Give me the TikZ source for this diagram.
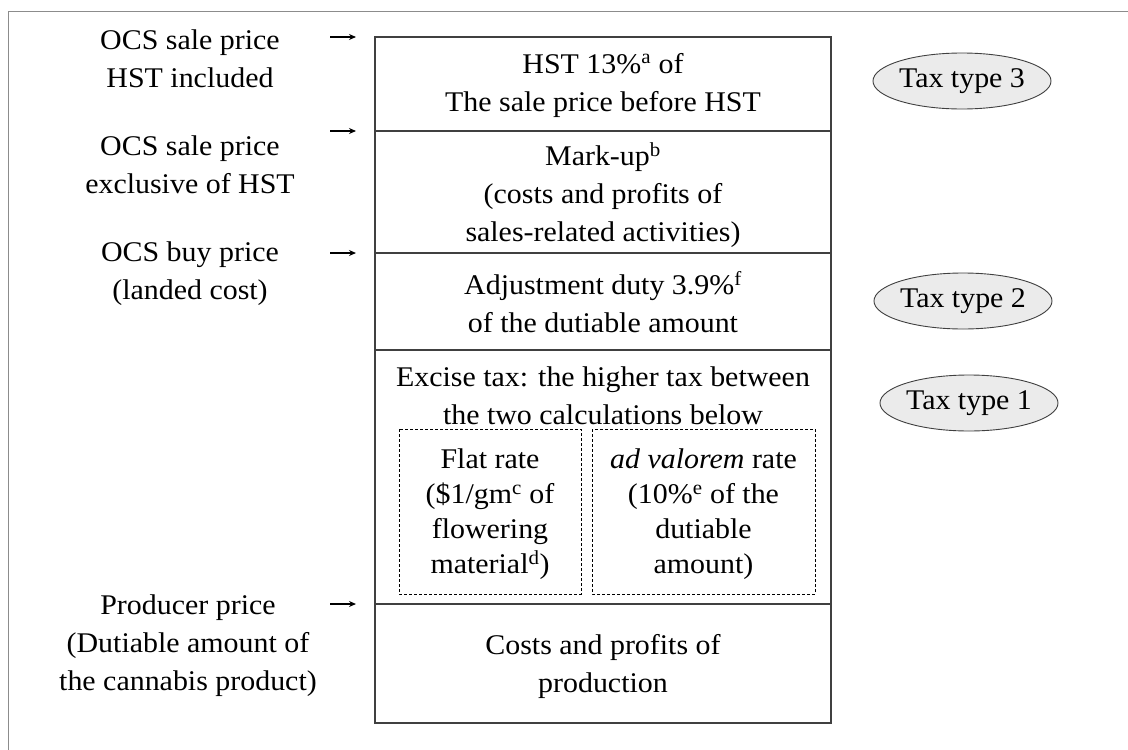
\documentclass[tikz,border=0pt]{standalone}
\usepackage{fontspec}
\setmainfont{Liberation Serif}[FakeStretch=1.05]
\usetikzlibrary{shapes.geometric,arrows.meta}
\tikzset{
 lbl/.style={align=center, inner sep=0pt, font=\fontsize{28.5}{38}\selectfont},
 dashtxt/.style={align=center, inner sep=0pt, font=\fontsize{28.5}{35}\selectfont},
 taxell/.style={ellipse, draw=black!75, fill=black!8, line width=0.9pt, minimum width=166pt, minimum height=56pt, inner sep=0pt, font=\fontsize{28.5}{34}\selectfont},
 mainline/.style={draw=black!75, line width=1.4pt},
 dashbox/.style={draw=black, line width=0.8pt, dash pattern=on 3pt off 2pt},
 ptr/.style={-{Stealth[length=7pt,width=6pt]}, line width=1.2pt},
 framel/.style={draw=black!45, line width=1pt}
}
\begin{document}
\begin{tikzpicture}[x=1pt,y=-1pt]
\useasboundingbox (0,0) rectangle (1128,750);
% outer frame
\draw[framel] (8,750) -- (8,11) -- (1128,11);
% main stacked box
\draw[mainline] (375,37) rectangle (831,723);
\draw[mainline] (375,131) -- (831,131);
\draw[mainline] (375,253) -- (831,253);
\draw[mainline] (375,350) -- (831,350);
\draw[mainline] (375,604) -- (831,604);
% dashed sub-boxes
\draw[dashbox] (399,429) rectangle (581,594);
\draw[dashbox] (592,429) rectangle (815,594);
% box texts
\node[lbl] (s1) at (603,85) {HST 13\%\textsuperscript{a} of\\The sale price before HST};
\node[lbl] (s2) at (603,195) {Mark-up\textsuperscript{b}\\(costs and profits of\\sales-related activities)};
\node[lbl] (s3) at (603,302) {Adjustment duty 3.9\%\textsuperscript{f}\\of the dutiable amount};
\node[lbl] (s4) at (603,396) {Excise tax: the higher tax between\\the two calculations below};
\node[dashtxt] (s4a) at (490,514) {Flat rate\\(\$1/gm\textsuperscript{c} of\\flowering\\material\textsuperscript{d})};
\node[dashtxt] (s4b) at (703.5,514) {\textit{ad valorem} rate\\(10\%\textsuperscript{e} of the\\dutiable\\amount)};
\node[lbl] (s5) at (603,666) {Costs and profits of\\production};
% left labels
\node[lbl] (l1) at (190,59) {OCS sale price\\HST included};
\node[lbl] (l2) at (190,165) {OCS sale price\\exclusive of HST};
\node[lbl] (l3) at (190,274) {OCS buy price\\(landed cost)};
\node[lbl] (l4) at (188,646) {Producer price\\(Dutiable amount of\\the cannabis product)};
% arrows
\coordinate (a1s) at (330,37);  \coordinate (a1e) at (356,37);
\coordinate (a2s) at (330,131); \coordinate (a2e) at (356,131);
\coordinate (a3s) at (330,253); \coordinate (a3e) at (356,253);
\coordinate (a4s) at (330,604); \coordinate (a4e) at (356,604);
\draw[ptr] (a1s) -- (a1e);
\draw[ptr] (a2s) -- (a2e);
\draw[ptr] (a3s) -- (a3e);
\draw[ptr] (a4s) -- (a4e);
% tax type ellipses
\node[taxell] (t3) at (962,81) {Tax type 3};
\node[taxell] (t2) at (963,301) {Tax type 2};
\node[taxell] (t1) at (969,403) {Tax type 1};
\end{tikzpicture}
\end{document}
